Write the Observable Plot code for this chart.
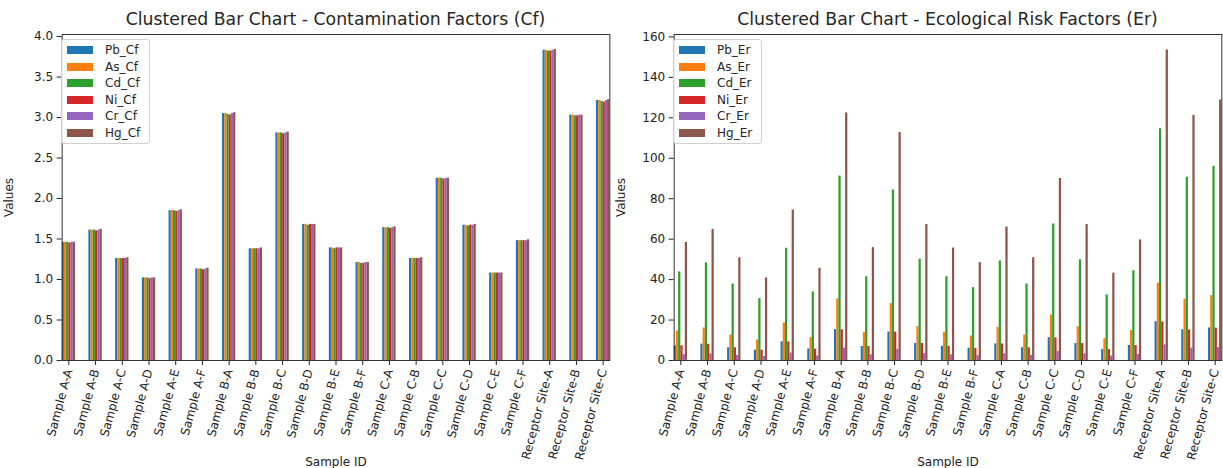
<!DOCTYPE html>
<html><head><meta charset="utf-8">
<script src="https://cdn.jsdelivr.net/npm/d3@7"></script>
<script src="https://cdn.jsdelivr.net/npm/@observablehq/plot@0.6"></script>
<style>
html,body{margin:0;padding:0;overflow:hidden;background:#fff;width:1223px;height:468px;}
#wrap{position:relative;width:1223px;height:468px;overflow:hidden;font-family:"DejaVu Sans",sans-serif;color:#262626;}
.panel{position:absolute;top:0;width:620px;height:468px;}
.panel svg{overflow:visible;max-width:none !important;width:620px;height:468px;}
.title{position:absolute;top:9px;font-size:17.3px;white-space:nowrap;transform:translateX(-50%);}
.legend{position:absolute;top:39px;border:1px solid #d0d0d0;border-radius:3px;background:rgba(255,255,255,0.85);padding:2px 9px 2px 5px;font-size:12px;}
.legend .row{display:flex;align-items:center;height:16.5px;}
.legend .sw{width:26px;height:8px;margin-right:12px;}
</style></head>
<body><div id="wrap"></div>
<script>
const samples = ["Sample A-A","Sample A-B","Sample A-C","Sample A-D","Sample A-E","Sample A-F",
  "Sample B-A","Sample B-B","Sample B-C","Sample B-D","Sample B-E","Sample B-F",
  "Sample C-A","Sample C-B","Sample C-C","Sample C-D","Sample C-E","Sample C-F",
  "Receptor Site-A","Receptor Site-B","Receptor Site-C"];
const cfSeries = ["Pb_Cf","As_Cf","Cd_Cf","Ni_Cf","Cr_Cf","Hg_Cf"];
const erSeries = ["Pb_Er","As_Er","Cd_Er","Ni_Er","Cr_Er","Hg_Er"];
const colors = ["#1f77b4","#ff7f0e","#2ca02c","#d62728","#9467bd","#8c564b"];

const pbCf = [1.46,1.61,1.26,1.02,1.85,1.13,3.05,1.38,2.81,1.68,1.39,1.21,1.64,1.26,2.25,1.67,1.08,1.48,3.83,3.03,3.21];
const asCf = [1.46,1.61,1.26,1.02,1.85,1.13,3.05,1.38,2.81,1.68,1.39,1.21,1.64,1.26,2.25,1.67,1.08,1.48,3.83,3.03,3.21];
const cdCf = [1.46,1.61,1.26,1.02,1.85,1.13,3.04,1.38,2.81,1.67,1.38,1.20,1.64,1.26,2.25,1.66,1.08,1.48,3.82,3.02,3.20];
const niCf = [1.45,1.60,1.26,1.01,1.84,1.12,3.03,1.38,2.80,1.68,1.39,1.20,1.63,1.26,2.24,1.67,1.08,1.48,3.82,3.02,3.19];
const crCf = [1.46,1.61,1.26,1.02,1.85,1.13,3.05,1.38,2.81,1.68,1.39,1.21,1.64,1.26,2.25,1.67,1.08,1.48,3.83,3.03,3.21];
const hgCf = [1.46,1.62,1.27,1.02,1.86,1.14,3.06,1.39,2.82,1.68,1.39,1.21,1.65,1.27,2.25,1.68,1.08,1.49,3.84,3.03,3.22];

const pbEr = [7.3,8.1,6.3,5.1,9.3,5.7,15.3,6.9,14.1,8.4,7.0,6.1,8.2,6.3,11.3,8.4,5.4,7.4,19.2,15.2,16.1];
const asEr = [14.6,16.1,12.6,10.2,18.5,11.3,30.5,13.8,28.1,16.8,13.9,12.1,16.4,12.6,22.5,16.7,10.8,14.8,38.3,30.3,32.1];
const cdEr = [43.8,48.3,37.8,30.6,55.5,33.9,91.2,41.4,84.3,50.1,41.4,36.0,49.2,37.8,67.5,49.8,32.4,44.4,114.6,90.6,96.0];
const niEr = [7.3,8.0,6.3,5.1,9.2,5.6,15.2,6.9,14.0,8.4,7.0,6.0,8.2,6.3,11.2,8.4,5.4,7.4,19.1,15.1,16.0];
const crEr = [2.9,3.2,2.5,2.0,3.7,2.3,6.1,2.8,5.6,3.4,2.8,2.4,3.3,2.5,4.5,3.3,2.2,3.0,7.7,6.1,6.4];
const hgEr = [58.4,64.8,50.8,40.8,74.4,45.6,122.4,55.8,112.8,67.2,55.6,48.4,66.0,50.8,90.0,67.2,43.2,59.6,153.6,121.2,128.8];

const cfTicks = [0,0.5,1.0,1.5,2.0,2.5,3.0,3.5,4.0];
const erTicks = [0,20,40,60,80,100,120,140,160];

const cfTitle = "Clustered Bar Chart - Contamination Factors (Cf)";
const erTitle = "Clustered Bar Chart - Ecological Risk Factors (Er)";

function panel(seriesNames, arrays, yMax, ticks, fmt) {
  const rows = [];
  seriesNames.forEach((s, i) => samples.forEach((sm, j) => rows.push({sample: sm, series: s, value: arrays[i][j]})));
  return Plot.plot({
    width: 620, height: 468,
    marginLeft: 55, marginRight: 4, marginTop: 34, marginBottom: 108,
    style: {fontFamily: "DejaVu Sans, sans-serif", fontSize: "12px", color: "#222", background: "transparent", overflow: "visible"},
    fx: {domain: samples, paddingInner: 0.5, paddingOuter: 0.25, round: false, label: "Sample ID", labelAnchor: "center", labelOffset: 105, tickRotate: -75, tickSize: 5, tickPadding: 4},
    x: {domain: seriesNames, axis: null, padding: 0, round: false},
    y: {domain: [0, yMax], ticks: ticks, tickFormat: fmt, label: "Values", labelAnchor: "center", labelArrow: "none", labelOffset: 58, tickSize: 5, tickPadding: 4},
    color: {domain: seriesNames, range: colors},
    marks: [
      Plot.barY(rows, {fx: "sample", x: "series", y: "value", fill: "series", inset: 0}),
      Plot.frame({facet: "super", stroke: "#333", strokeWidth: 1})
    ]
  });
}

function legend(names, left) {
  const d = document.createElement("div");
  d.className = "legend";
  d.style.left = left + "px";
  names.forEach((n, i) => {
    const r = document.createElement("div"); r.className = "row";
    const s = document.createElement("div"); s.className = "sw"; s.style.background = colors[i];
    const t = document.createElement("span"); t.textContent = n;
    r.appendChild(s); r.appendChild(t); d.appendChild(r);
  });
  return d;
}

const wrap = document.getElementById("wrap");
const p1 = document.createElement("div"); p1.className = "panel"; p1.style.left = "0px";
p1.appendChild(panel(cfSeries, [pbCf, asCf, cdCf, niCf, crCf, hgCf], 4.025, cfTicks, d3.format(".1f")));
const p2 = document.createElement("div"); p2.className = "panel"; p2.style.left = "612px";
p2.appendChild(panel(erSeries, [pbEr, asEr, cdEr, niEr, crEr, hgEr], 161.2, erTicks, d3.format("d")));
wrap.appendChild(p1); wrap.appendChild(p2);
wrap.appendChild(legend(cfSeries, 61));
wrap.appendChild(legend(erSeries, 673));
const t1 = document.createElement("div"); t1.className = "title"; t1.style.left = "335.5px"; t1.textContent = cfTitle;
const t2 = document.createElement("div"); t2.className = "title"; t2.style.left = "947.5px"; t2.textContent = erTitle;
wrap.appendChild(t1); wrap.appendChild(t2);
</script>
</body></html>
